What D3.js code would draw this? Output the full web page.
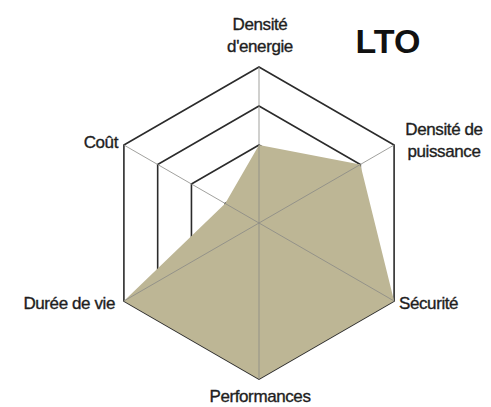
<!DOCTYPE html>
<html><head><meta charset="utf-8">
<script src="https://cdn.jsdelivr.net/npm/d3@7"></script>
<style>body{margin:0;background:#fff}svg{display:block}</style>
</head><body>
<svg id="c" width="491" height="407"></svg>
<script>
const categories = ["Densité d'energie", "Densité de puissance", "Sécurité", "Performances", "Durée de vie", "Coût"];
const labelLines = [["Densité", "d'energie"], ["Densité de", "puissance"], ["Sécurité"], ["Performances"], ["Durée de vie"], ["Coût"]];
const values = [2, 3, 4, 4, 4, 1];
const ringLevels = [1, 2, 3, 4];
const title = "LTO";

const svg = d3.select("#c");
const cx = 259, cy = 223;
const r = d3.scaleLinear().domain([0, 4]).range([0, 156]);
const ang = d3.scaleLinear().domain([0, categories.length]).range([0, 2 * Math.PI]);
const pt = (i, v) => [cx + r(v) * Math.sin(ang(i)), cy - r(v) * Math.cos(ang(i))];

// rings
const line = d3.line();
svg.append("g").selectAll("path").data(ringLevels).join("path")
  .attr("d", lv => line(categories.map((c, i) => pt(i, lv))) + "Z")
  .attr("fill", "none").attr("stroke", "#2b2b2b").attr("stroke-width", 1.6);

// area
svg.append("path")
  .attr("d", line(values.map((v, i) => pt(i, v))) + "Z")
  .attr("fill", "#bdb695");

// spokes
svg.append("g").selectAll("line").data(categories).join("line")
  .attr("x1", cx).attr("y1", cy)
  .attr("x2", (d, i) => pt(i, 4)[0]).attr("y2", (d, i) => pt(i, 4)[1])
  .attr("stroke", "#8a8a86").attr("stroke-opacity", 0.8).attr("stroke-width", 1);

// labels
const labelPos = [
  {x: 260, y: 30, a: "middle"},
  {x: 444, y: 135, a: "middle"},
  {x: 399, y: 309, a: "start"},
  {x: 260, y: 402, a: "middle"},
  {x: 115, y: 309, a: "end"},
  {x: 118, y: 148, a: "end"}
];
const lab = svg.append("g").attr("font-family", "'Liberation Sans', Arial, sans-serif")
  .attr("font-size", 17).attr("fill", "#1e1e1e")
  .attr("stroke", "#1e1e1e").attr("stroke-width", 0.35).attr("letter-spacing", -0.4);
labelLines.forEach((ls, i) => {
  const t = lab.append("text").attr("x", labelPos[i].x).attr("y", labelPos[i].y)
    .attr("text-anchor", labelPos[i].a);
  ls.forEach((s, k) => t.append("tspan").attr("x", labelPos[i].x).attr("dy", k === 0 ? 0 : 22).text(s));
});

svg.append("text").attr("x", 388).attr("y", 53).attr("text-anchor", "middle")
  .attr("font-family", "'Liberation Sans', Arial, sans-serif").attr("font-weight", "bold")
  .attr("font-size", 34).attr("fill", "#111").text(title);
</script>
</body></html>
